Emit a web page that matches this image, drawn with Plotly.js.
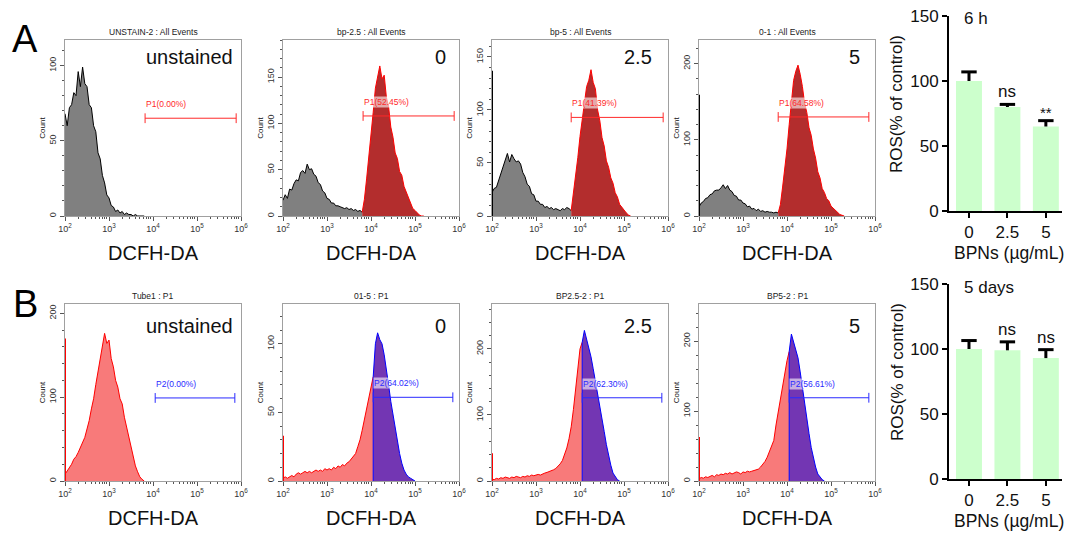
<!DOCTYPE html>
<html><head><meta charset="utf-8">
<script src="https://cdn.plot.ly/plotly-3.0.1.min.js"></script>
<style>html,body{margin:0;padding:0;background:#fff}#chart{width:1073px;height:538px}</style>
</head><body><div id="chart"></div>
<script>
// ---------------- DATA ----------------
// log10(DCFH-DA fluorescence) bin positions
const bins = [2.00,2.05,2.10,2.15,2.20,2.25,2.30,2.35,2.40,2.45,2.50,2.55,2.60,2.65,2.70,2.75,2.80,2.85,2.90,2.95,
  3.00,3.05,3.10,3.15,3.20,3.25,3.30,3.35,3.40,3.45,3.50,3.55,3.60,3.65,3.70,3.75,3.80,3.85,3.90,3.95,
  4.00,4.05,4.10,4.15,4.20,4.25,4.30,4.35,4.40,4.45,4.50,4.55,4.60,4.65,4.70,4.75,4.80,4.85,4.90,4.95,
  5.00,5.05,5.10,5.15,5.20,5.25,5.30];

// Row A (6 h) histogram counts
const countsA1 = [68,60,72,74,82,80,96,86,99,88,86,74,72,60,56,42,38,27,22,14,12,7,6,3,4,2,3,1,2,1,1,0,1,0,0,0,0];
const countsA2 = [17,23,19,29,28,35,39,38,47,49,46,56,50,51,45,43,36,34,27,25,19,18,14,14,11,11,10,9,8,9,7,8,6,7,5,6,4,
  18,40,62,90,112,138,150,162,148,152,128,118,96,85,68,62,48,44,32,26,18,14,8,6,3,1,0,0];
const countsA3 = [22,26,27,33,39,47,53,59,51,58,54,51,52,49,41,37,30,28,21,20,14,14,11,11,8,9,7,8,6,7,6,5,7,6,8,7,5,
  20,36,55,75,92,106,122,128,138,126,120,100,90,74,66,52,46,36,31,22,18,11,8,5,3,1,0];
const countsA4 = [12,17,19,23,24,28,29,33,34,34,37,41,36,40,34,32,27,26,21,21,17,16,12,13,9,10,7,9,6,7,5,6,5,5,4,5,4,
  15,38,62,88,120,148,178,190,198,186,170,148,136,116,106,88,76,58,50,36,31,23,20,13,10,7,4,2,1,0];
const edgeA = [0, 0, 137, 159];

// Row B (5 days) histogram counts
const countsB1 = [8,12,16,20,26,29,34,40,47,52,62,72,86,98,115,130,145,160,176,164,
  168,146,136,120,112,98,92,76,64,50,38,28,18,11,5,2,0];
const countsB2 = [2,3,2,3,4,3,5,6,5,6,7,6,7,6,7,8,7,8,7,9,8,9,8,10,9,11,10,12,11,13,14,16,18,20,25,30,37,45,52,60,68,76,
  100,108,103,100,92,82,70,58,48,38,29,20,13,8,5,3,2,1,0];
const countsB3 = [3,2,4,3,5,4,6,5,4,6,5,7,6,5,7,6,8,7,9,8,9,10,9,11,12,13,14,15,17,19,22,26,31,40,50,64,82,108,138,170,200,210,
  228,216,204,188,170,152,135,115,97,75,55,38,24,12,6,2,0];
const countsB4 = [3,5,4,6,5,7,8,6,9,8,10,9,11,10,12,10,11,13,12,10,13,12,14,13,14,15,16,17,20,24,28,34,42,52,58,80,98,118,138,158,172,185,
  210,198,190,176,156,132,110,88,68,48,32,20,10,5,2,0];
const edgeB = [170, 33, 42, 63];

// Gates (log10 units / counts)
const gateSplitA = 3.80, gateSplitB = 4.05;
const gateStartA = [3.82, 3.82, 3.80, 3.80];
const gateEndA   = [5.89, 5.89, 5.89, 5.86];
const gateYA     = [65, 108, 93, 130];
const gateLabelA = ['P1(0.00%)', 'P1(52.45%)', 'P1(41.39%)', 'P1(64.58%)'];
const gateStartB = [4.05, 4.05, 4.05, 4.05];
const gateEndB   = [5.86, 5.86, 5.86, 5.86];
const gateYB     = [99, 61, 126, 119];
const gateLabelB = ['P2(0.00%)', 'P2(64.02%)', 'P2(62.30%)', 'P2(56.61%)'];

const sampleA = ['UNSTAIN-2 : All Events', 'bp-2.5 : All Events', 'bp-5 : All Events', '0-1 : All Events'];
const sampleB = ['Tube1 : P1', '01-5 : P1', 'BP2.5-2 : P1', 'BP5-2 : P1'];
const doseLabels = ['unstained', '0', '2.5', '5'];

const xTickVals = [2, 3, 4, 5, 6];
const xTickText = ['10<sup>2</sup>', '10<sup>3</sup>', '10<sup>4</sup>', '10<sup>5</sup>', '10<sup>6</sup>'];

// Bar charts
const doseCats = ['0', '2.5', '5'];
const ros6h  = [100, 80, 65];
const err6h  = [7, 2, 4.5];
const sig6h  = ['', 'ns', '**'];
const ros5d  = [100, 99, 93];
const err5d  = [6.5, 6.5, 6.5];
const sig5d  = ['', 'ns', 'ns'];

// ---------------- LAYOUT ----------------
const W = 1073, H = 538;
const px = x => x / W, py = y => 1 - y / H;
const FONT = 'Arial, "Liberation Sans", sans-serif';

const cols = [[65, 241], [283, 459], [492, 668], [699, 875]];
const rowA = [40, 216], rowB = [304, 481];
const yMaxA = [117, 190, 166, 231], yMaxB = [211, 129, 268, 253];
const dtA = [50, 50, 50, 100], dtB = [100, 50, 100, 100];
const labelRight = [235, 448, 654, 862];

const minorX = [];
for (let d = 2; d < 6; d++) for (let m = 2; m <= 9; m++) minorX.push(d + Math.log10(m));

const traces = [];
const annotations = [];
const layout = {
  width: W, height: H, margin: {l: 0, r: 0, t: 0, b: 0}, showlegend: false,
  paper_bgcolor: '#fff', plot_bgcolor: 'rgba(0,0,0,0)',
  font: {family: FONT, color: '#000'}, annotations: annotations
};

const idx = v => bins.findIndex(b => Math.abs(b - v) < 1e-9);

function addHist(k, counts, edge, split, row, col, ymax, dt, style, gate, sample, dose) {
  const xa = 'x' + k, ya = 'y' + k;
  const xs = bins.slice(0, counts.length);
  const i0 = idx(split);
  traces.push({x: xs.slice(0, i0 + 1), y: counts.slice(0, i0 + 1), xaxis: xa, yaxis: ya, type: 'scatter',
    mode: 'lines', fill: 'tozeroy', fillcolor: style.lowFill, line: {color: style.lowLine, width: 1}, hoverinfo: 'skip'});
  if (counts.length > i0 + 1) {
    let hx = xs.slice(i0), hy = counts.slice(i0);
    if (style.vertical) { hx = [xs[i0]].concat(hx); hy = [0].concat(hy); }
    traces.push({x: hx, y: hy, xaxis: xa, yaxis: ya, type: 'scatter', mode: 'lines', fill: 'tozeroy',
      fillcolor: style.highFill, line: {color: style.highLine, width: 1}, hoverinfo: 'skip'});
  }
  if (edge > 0) {
    traces.push({x: [bins[0], bins[0]], y: [0, edge], xaxis: xa, yaxis: ya, type: 'scatter', mode: 'lines',
      line: {color: style.lowLine, width: 2}, hoverinfo: 'skip'});
  }
  traces.push({x: [gate.s, gate.e], y: [gate.y, gate.y], xaxis: xa, yaxis: ya, type: 'scatter', mode: 'lines+markers',
    line: {color: style.gate, width: 1}, marker: {symbol: 'line-ns-open', size: 7, color: style.gate, line: {color: style.gate, width: 1}},
    hoverinfo: 'skip'});
  annotations.push({xref: xa, yref: ya, x: gate.s, y: gate.y, xanchor: 'left', yanchor: 'middle', yshift: 14,
    text: gate.label, showarrow: false, font: {size: 8.5, color: style.gate}, bgcolor: 'rgba(255,255,255,0.6)', borderpad: 0});

  layout['xaxis' + k] = {
    domain: [px(cols[col][0]), px(cols[col][1])], anchor: ya, range: [2, 6], tickmode: 'array',
    tickvals: xTickVals, ticktext: xTickText, ticks: 'outside', ticklen: 4, tickcolor: '#555', tickwidth: 1,
    minor: {tickmode: 'array', tickvals: minorX, ticks: 'outside', ticklen: 2, tickcolor: '#555'},
    showline: true, linecolor: '#a0a0a0', linewidth: 1, mirror: true, showgrid: false, zeroline: false,
    tickfont: {size: 9, color: '#333'},
    title: {text: 'DCFH-DA', font: {size: 20, color: '#111'}, standoff: 13}
  };
  layout['yaxis' + k] = {
    domain: [py(row[1]), py(row[0])], anchor: xa, range: [0, ymax], dtick: dt, tickangle: -90,
    ticks: 'outside', ticklen: 4, tickcolor: '#555', tickwidth: 1,
    minor: {dtick: dt / 5, ticks: 'outside', ticklen: 2, tickcolor: '#555'},
    showline: true, linecolor: '#a0a0a0', linewidth: 1, mirror: true, showgrid: false, zeroline: false,
    tickfont: {size: 9, color: '#333'},
    title: {text: 'Count', font: {size: 8, color: '#111'}, standoff: 1}
  };
  annotations.push({xref: 'paper', yref: 'paper', x: px((cols[col][0] + cols[col][1]) / 2), y: py(row[0] - 8),
    xanchor: 'center', yanchor: 'middle', text: sample, showarrow: false, font: {size: 8.5, color: '#222'}});
  annotations.push({xref: 'paper', yref: 'paper', x: px(labelRight[col]), y: py(row[0] + 17 + (row === rowB ? 5 : 0)),
    xanchor: 'right', yanchor: 'middle', text: dose, showarrow: false, font: {size: 20, color: '#111'}});
}

const styleA = {lowFill: '#808080', lowLine: '#000000', highFill: '#b32d2d', highLine: '#ff0000', gate: '#ff2a2a', vertical: false};
const styleB = {lowFill: '#f87a7a', lowLine: '#ff0000', highFill: '#7336b3', highLine: '#0000ff', gate: '#2a2aff', vertical: true};
const histA = [countsA1, countsA2, countsA3, countsA4];
const histB = [countsB1, countsB2, countsB3, countsB4];

for (let c = 0; c < 4; c++) {
  addHist(c + 1, histA[c], edgeA[c], gateSplitA, rowA, c, yMaxA[c], dtA[c], styleA,
    {s: gateStartA[c], e: gateEndA[c], y: gateYA[c], label: gateLabelA[c]}, sampleA[c], doseLabels[c]);
  addHist(c + 5, histB[c], edgeB[c], gateSplitB, rowB, c, yMaxB[c], dtB[c], styleB,
    {s: gateStartB[c], e: gateEndB[c], y: gateYB[c], label: gateLabelB[c]}, sampleB[c], doseLabels[c]);
}

function addBars(k, vals, errs, sigs, top, bottom, tag) {
  const xa = 'x' + k, ya = 'y' + k;
  traces.push({type: 'bar', x: doseCats, y: vals, xaxis: xa, yaxis: ya, width: 0.675,
    marker: {color: '#ccffcc', line: {width: 0}},
    error_y: {type: 'data', array: errs, arrayminus: vals.map(() => 0), symmetric: false, thickness: 3, width: 0, color: '#000'},
    hoverinfo: 'skip'});
  traces.push({type: 'scatter', mode: 'markers', x: doseCats, y: vals.map((v, i) => v + errs[i]), xaxis: xa, yaxis: ya,
    marker: {symbol: 'line-ew-open', size: 11, color: '#000', line: {color: '#000', width: 3}}, hoverinfo: 'skip'});
  layout['xaxis' + k] = {
    domain: [px(949), px(1062)], anchor: ya, type: 'category', range: [-0.52, 2.42],
    showline: true, linecolor: '#000', linewidth: 2, ticks: 'outside', ticklen: 5, tickwidth: 2, tickcolor: '#000',
    ticklabelstandoff: 0,
    showgrid: false, zeroline: false, tickfont: {size: 17, color: '#111'}
  };
  layout['yaxis' + k] = {
    domain: [py(bottom), py(top)], anchor: xa, range: [0, 150], dtick: 50,
    showline: true, linecolor: '#000', linewidth: 2, ticks: 'outside', ticklen: 5, tickwidth: 2, tickcolor: '#000',
    showgrid: false, zeroline: false, tickfont: {size: 17, color: '#111'}
  };
  // axis titles
  annotations.push({xref: 'paper', yref: 'paper', x: px(897), y: py(top + 88), xanchor: 'center', yanchor: 'middle',
    textangle: -90, text: 'ROS(% of control)', showarrow: false, font: {size: 17, color: '#111'}});
  annotations.push({xref: 'paper', yref: 'paper', x: px(1009), y: py(bottom + 42), xanchor: 'center', yanchor: 'middle',
    text: 'BPNs (µg/mL)', showarrow: false, font: {size: 17.5, color: '#111'}});
  sigs.forEach((s, i) => {
    if (!s) return;
    annotations.push({xref: xa, yref: ya, x: i, y: vals[i] + errs[i], yanchor: 'bottom',
      yshift: s === '**' ? -2 : 1, text: s, showarrow: false, font: {size: s === '**' ? 15 : 17, color: '#111'}});
  });
  annotations.push({xref: 'paper', yref: 'paper', x: px(962), y: py(top + 3), xanchor: 'left', yanchor: 'middle',
    text: tag, showarrow: false, font: {size: 17, color: '#111'}});
}
addBars(9, ros6h, err6h, sig6h, 16, 211, '6 h');
addBars(10, ros5d, err5d, sig5d, 284, 479, '5 days');

annotations.push({xref: 'paper', yref: 'paper', x: px(25), y: py(39), xanchor: 'center', yanchor: 'middle',
  text: 'A', showarrow: false, font: {size: 38, color: '#000'}});
annotations.push({xref: 'paper', yref: 'paper', x: px(25), y: py(304), xanchor: 'center', yanchor: 'middle',
  text: 'B', showarrow: false, font: {size: 38, color: '#000'}});

Plotly.newPlot('chart', traces, layout, {staticPlot: true, displayModeBar: false});
</script>
</body></html>
